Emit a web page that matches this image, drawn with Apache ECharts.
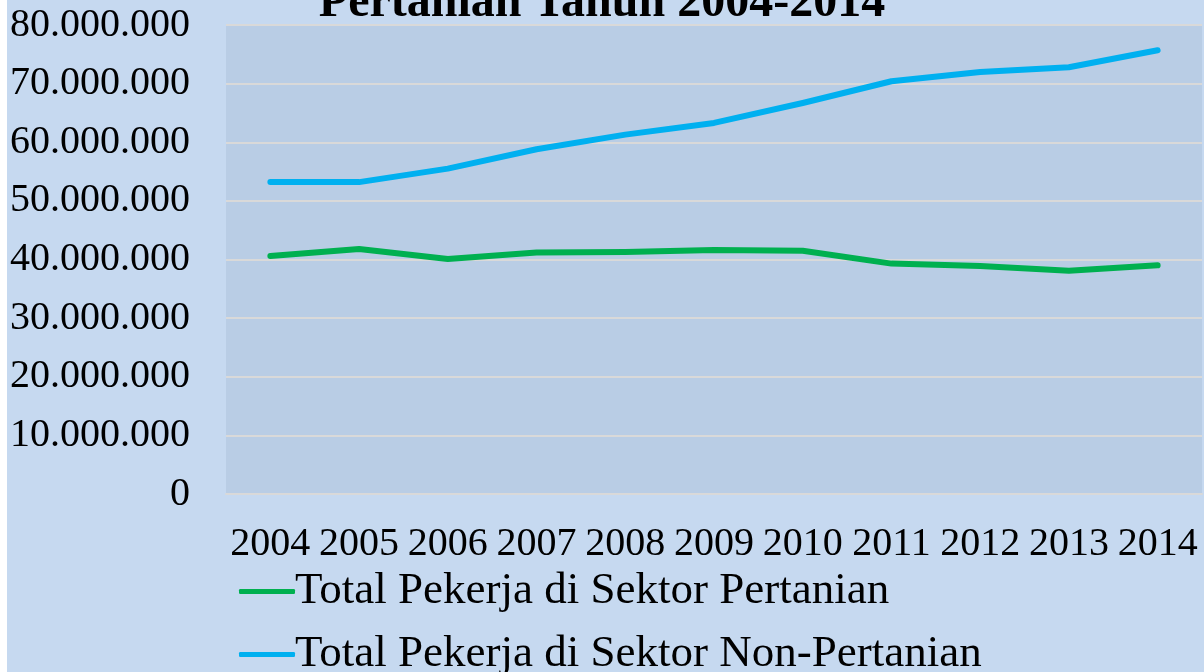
<!DOCTYPE html>
<html>
<head>
<meta charset="utf-8">
<script src="https://cdn.jsdelivr.net/npm/echarts@6/dist/echarts.min.js"></script>
<style>
  html, body { margin: 0; padding: 0; background: #ffffff; }
  #chart { width: 1204px; height: 672px; }
</style>
</head>
<body>
<div id="chart"></div>
<script>
// data
const years = ['2004', '2005', '2006', '2007', '2008', '2009', '2010', '2011', '2012', '2013', '2014']
const pertanian = [40600000, 41800000, 40100000, 41200000, 41300000, 41600000, 41500000, 39300000, 38900000, 38100000, 39000000]
const nonPertanian = [53200000, 53200000, 55500000, 58800000, 61300000, 63300000, 66700000, 70400000, 72000000, 72800000, 75700000]
const seriesNames = ['Total Pekerja di Sektor Pertanian', 'Total Pekerja di Sektor Non-Pertanian']
const titleText = 'Pertanian Tahun 2004-2014'

const font = '"Liberation Serif", serif'

// 80000000 -> 80.000.000
const fmt = v => String(v).replace(/\B(?=(\d{3})+(?!\d))/g, '.')

const chart = echarts.init(document.getElementById('chart'))

const option = {
  backgroundColor: '#c6d9f0',
  animation: false,
  textStyle: { fontFamily: font },
  title: {
    text: titleText,
    left: 'center',
    top: -25,
    textStyle: {
      fontFamily: font,
      fontSize: 48,
      fontWeight: 'bold',
      color: '#000'
    }
  },
  graphic: [{
    type: 'rect',
    left: 0,
    top: 0,
    shape: { width: 7, height: 672 },
    style: { fill: '#ffffff' },
    silent: true
  }],
  grid: {
    left: 226,
    right: 2,
    top: 25,
    bottom: 178,
    show: true,
    backgroundColor: '#b9cde5',
    borderWidth: 0
  },
  legend: {
    orient: 'vertical',
    left: 234,
    top: 564,
    height: 300,
    icon: 'roundRect',
    itemWidth: 56,
    itemHeight: 5,
    itemGap: 18,
    textStyle: {
      fontFamily: font,
      fontSize: 45,
      color: '#000',
      padding: [0, 0, 0, -5]
    },
    data: seriesNames
  },
  xAxis: {
    type: 'category',
    data: years,
    boundaryGap: true,
    axisLine: { lineStyle: { color: '#d9d9d9', width: 2 } },
    axisTick: { show: false },
    axisLabel: {
      color: '#000',
      fontFamily: font,
      fontSize: 40,
      margin: 30,
      interval: 0
    }
  },
  yAxis: {
    type: 'value',
    min: 0,
    max: 80000000,
    interval: 10000000,
    axisLine: { show: false },
    axisTick: { show: false },
    splitLine: { lineStyle: { color: '#d9d9d9', width: 2 } },
    axisLabel: {
      color: '#000',
      fontFamily: font,
      fontSize: 40,
      margin: 36,
      formatter: fmt
    }
  },
  series: [
    {
      name: seriesNames[0],
      type: 'line',
      data: pertanian,
      symbol: 'none',
      lineStyle: { color: '#00b050', width: 6, cap: 'round', join: 'round' },
      itemStyle: { color: '#00b050' }
    },
    {
      name: seriesNames[1],
      type: 'line',
      data: nonPertanian,
      symbol: 'none',
      lineStyle: { color: '#00b0f0', width: 6, cap: 'round', join: 'round' },
      itemStyle: { color: '#00b0f0' }
    }
  ]
}

chart.setOption(option)
</script>
</body>
</html>
